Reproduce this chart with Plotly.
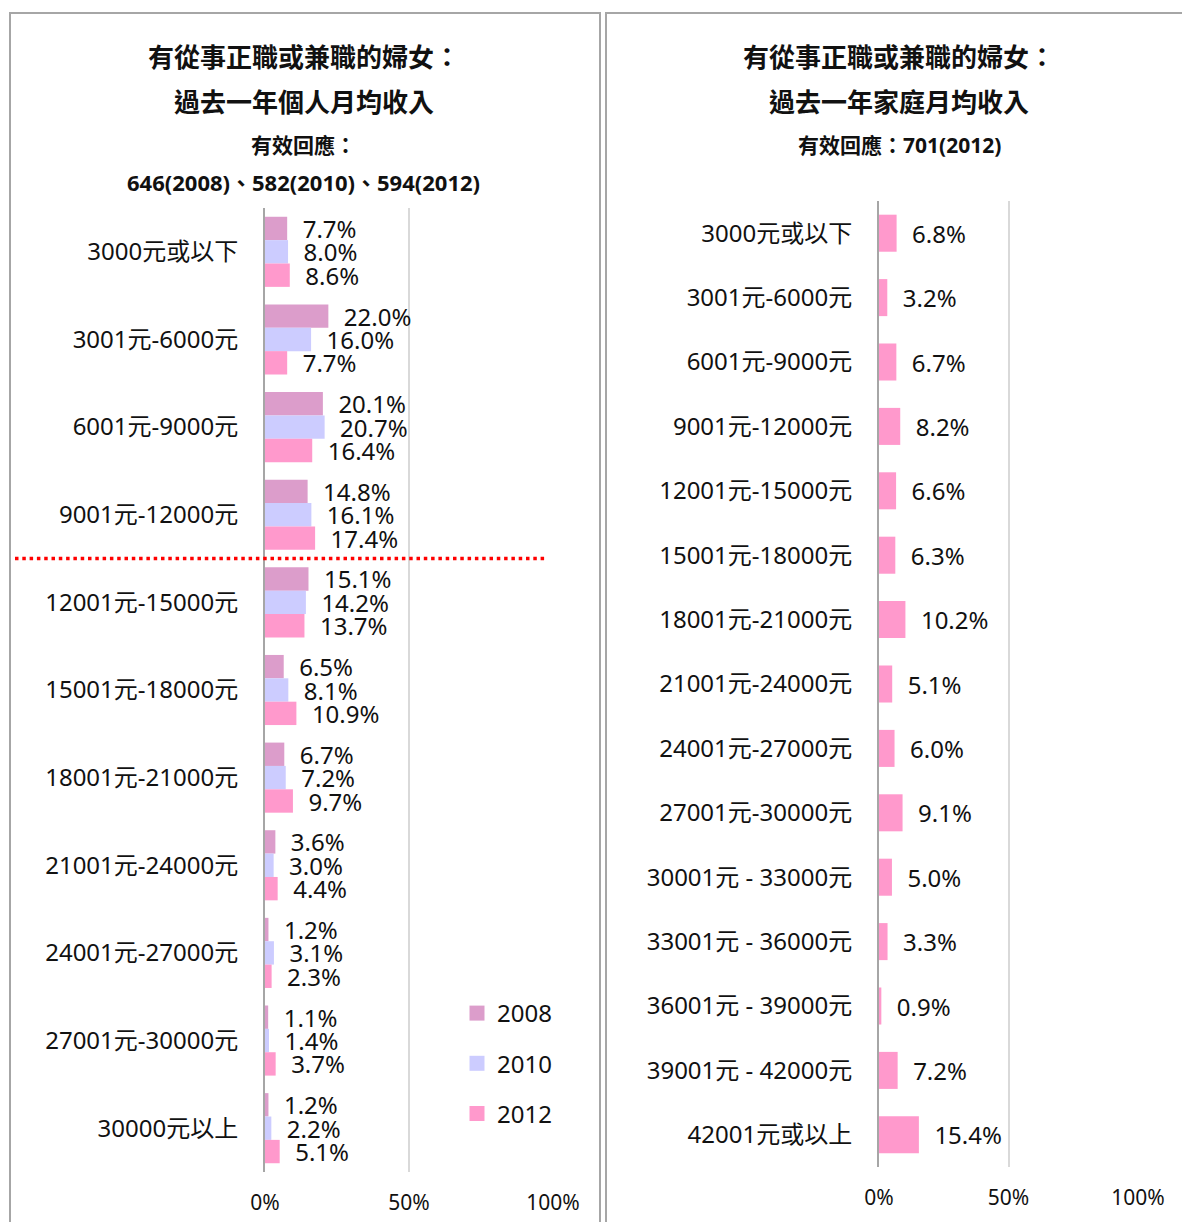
import plotly.graph_objects as go

W, H = 1182, 1222

left_categories = ["3000元或以下", "3001元-6000元", "6001元-9000元", "9001元-12000元",
                   "12001元-15000元", "15001元-18000元", "18001元-21000元", "21001元-24000元",
                   "24001元-27000元", "27001元-30000元", "30000元以上"]
series_names = ["2008", "2010", "2012"]
values_2008 = [7.7, 22.0, 20.1, 14.8, 15.1, 6.5, 6.7, 3.6, 1.2, 1.1, 1.2]
values_2010 = [8.0, 16.0, 20.7, 16.1, 14.2, 8.1, 7.2, 3.0, 3.1, 1.4, 2.2]
values_2012 = [8.6, 7.7, 16.4, 17.4, 13.7, 10.9, 9.7, 4.4, 2.3, 3.7, 5.1]

right_categories = ["3000元或以下", "3001元-6000元", "6001元-9000元", "9001元-12000元",
                    "12001元-15000元", "15001元-18000元", "18001元-21000元", "21001元-24000元",
                    "24001元-27000元", "27001元-30000元", "30001元 - 33000元", "33001元 - 36000元",
                    "36001元 - 39000元", "39001元 - 42000元", "42001元或以上"]
household_2012 = [6.8, 3.2, 6.7, 8.2, 6.6, 6.3, 10.2, 5.1, 6.0, 9.1, 5.0, 3.3, 0.9, 7.2, 15.4]

x_tick_vals = [0, 50, 100]
x_tick_text = ["0%", "50%", "100%"]
left_titles = ["有從事正職或兼職的婦女：", "過去一年個人月均收入", "有效回應：", "646(2008)、582(2010)、594(2012)"]
right_titles = ["有從事正職或兼職的婦女：", "過去一年家庭月均收入", "有效回應：701(2012)"]

colors = {"2008": "#DC9DCB", "2010": "#CCCCFF", "2012": "#FF99CC"}
FONT = "Noto Sans, Noto Sans CJK TC, sans-serif"
TXT = "#111111"

def px_x(p):
    return p / W

def px_y(p):
    return 1 - p / H

fig = go.Figure()

for name, vals in zip(series_names, [values_2008, values_2010, values_2012]):
    fig.add_trace(go.Bar(
        y=left_categories, x=vals, orientation="h", name=name,
        marker=dict(color=colors[name], line=dict(width=0)),
        texttemplate="\u00a0\u00a0%{x:.1f}%", textposition="outside",
        textfont=dict(size=24, color=TXT, family=FONT),
        constraintext="none", textangle=0, cliponaxis=False,
        xaxis="x", yaxis="y", showlegend=False,
    ))

# legend-only entries with square swatches
for name in series_names:
    fig.add_trace(go.Scatter(
        x=[None], y=[None], mode="markers", name=name,
        marker=dict(symbol="square", size=15, color=colors[name]),
        xaxis="x", yaxis="y", legendgroup=name, showlegend=True,
    ))

fig.add_trace(go.Bar(
    y=right_categories, x=household_2012, orientation="h", name="2012 家庭",
    marker=dict(color=colors["2012"], line=dict(width=0)),
    texttemplate="\u00a0\u00a0%{x:.1f}%", textposition="outside",
    textfont=dict(size=24, color=TXT, family=FONT),
    constraintext="none", textangle=0, cliponaxis=False,
    xaxis="x2", yaxis="y2", showlegend=False, width=0.575,
))

axis_common = dict(range=[0, 100], tickmode="array", tickvals=x_tick_vals, ticktext=x_tick_text,
                   showgrid=True, gridcolor="#D9D9D9", gridwidth=2,
                   zeroline=False, showline=False, ticks="", automargin=False,
                   tickfont=dict(size=21, color=TXT, family=FONT),
                   ticklabelstandoff=16, fixedrange=True)

ytick_font = dict(size=24, color=TXT, family=FONT)

fig.update_layout(
    template="none",
    width=W, height=H, autosize=False,
    margin=dict(l=0, r=0, t=0, b=0, pad=0, autoexpand=False),
    paper_bgcolor="white", plot_bgcolor="white",
    barmode="group", bargap=0.2, bargroupgap=0,
    font=dict(family=FONT, color=TXT),
    xaxis=dict(domain=[px_x(265), px_x(553)], anchor="y", **axis_common),
    yaxis=dict(domain=[px_y(1172), px_y(208)], anchor="x", autorange="reversed",
               showline=True, linecolor="#A6A6A6", linewidth=2, ticks="", showgrid=False,
               zeroline=False, automargin=False,
               tickfont=ytick_font, ticklabelstandoff=20, fixedrange=True),
    xaxis2=dict(domain=[px_x(879), px_x(1138)], anchor="y2", **axis_common),
    yaxis2=dict(domain=[px_y(1167), px_y(201)], anchor="x2", autorange="reversed",
                showline=True, linecolor="#A6A6A6", linewidth=2, ticks="", showgrid=False,
                zeroline=False, automargin=False,
                tickfont=ytick_font, ticklabelstandoff=20, fixedrange=True),
    legend=dict(x=px_x(457), y=px_y(991), xanchor="left", yanchor="top",
                traceorder="grouped", tracegroupgap=16,
                font=dict(size=24, color=TXT, family=FONT),
                bgcolor="rgba(0,0,0,0)", borderwidth=0, itemwidth=30),
    showlegend=True,
)

# panel borders
fig.add_shape(type="rect", xref="paper", yref="paper",
              x0=px_x(10), x1=px_x(600), y0=px_y(1240), y1=px_y(13),
              line=dict(color="#A6A6A6", width=2), layer="below")
fig.add_shape(type="rect", xref="paper", yref="paper",
              x0=px_x(606), x1=px_x(1200), y0=px_y(1240), y1=px_y(13),
              line=dict(color="#A6A6A6", width=2), layer="below")

# red dotted divider between 9001-12000 and 12001-15000
fig.add_shape(type="line", xref="paper", yref="y",
              x0=px_x(15), x1=px_x(545), y0=3.5, y1=3.5,
              line=dict(color="#FF0000", width=3.5, dash="3.5px,3.8px"))

for txt, yp, sz in zip(left_titles, [57, 102, 145, 182], [26, 26, 21, 22]):
    fig.add_annotation(text="<b>%s</b>" % txt, xref="paper", yref="paper",
                       x=px_x(304), y=px_y(yp), xanchor="center", yanchor="middle",
                       showarrow=False, font=dict(size=sz, color=TXT, family=FONT))
for txt, yp, sz in zip(right_titles, [57, 102, 145], [26, 26, 21]):
    fig.add_annotation(text="<b>%s</b>" % txt, xref="paper", yref="paper",
                       x=px_x(899), y=px_y(yp), xanchor="center", yanchor="middle",
                       showarrow=False, font=dict(size=sz, color=TXT, family=FONT))

fig.write_html("out.html", config={"displayModeBar": False},
               post_script="document.body.style.margin='0px';")
